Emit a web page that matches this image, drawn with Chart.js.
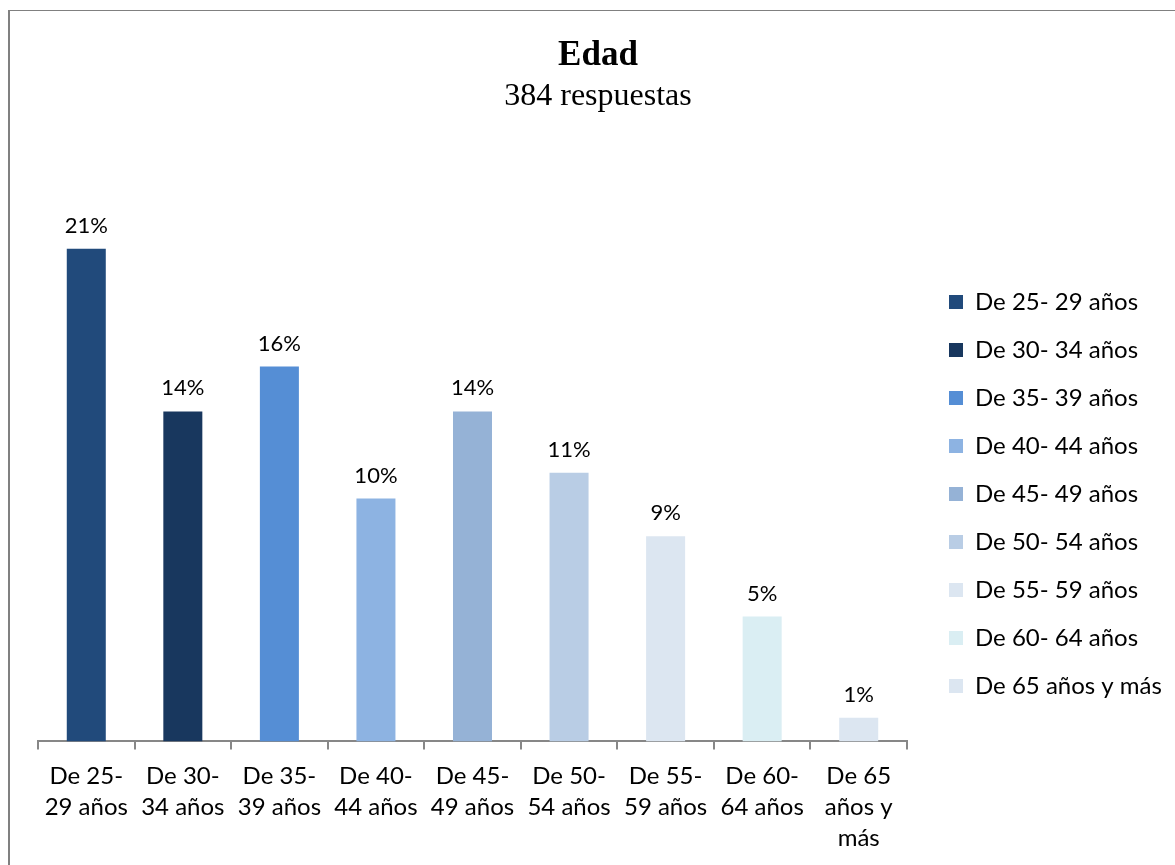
<!DOCTYPE html>
<html>
<head>
<meta charset="utf-8">
<script src="https://cdn.jsdelivr.net/npm/chart.js@4"></script>
<style>
  html, body { margin: 0; padding: 0; background: #ffffff; }
  #wrap { position: relative; width: 1175px; height: 865px; overflow: hidden; background: #fff; }
  #frame { position: absolute; left: 8px; top: 10px; width: 1200px; height: 900px;
           border-left: 2px solid #808080; border-top: 1px solid #808080; box-sizing: border-box; }
  #c { position: absolute; left: 0; top: 0; }
</style>
</head>
<body>
<div id="wrap">
  <div id="frame"></div>
  <canvas id="c" width="1175" height="865"></canvas>
</div>
<script>
// ---- Data ----
const categories = [
  ["De 25-", "29 años"],
  ["De 30-", "34 años"],
  ["De 35-", "39 años"],
  ["De 40-", "44 años"],
  ["De 45-", "49 años"],
  ["De 50-", "54 años"],
  ["De 55-", "59 años"],
  ["De 60-", "64 años"],
  ["De 65", "años y", "más"]
];
const legendLabels = [
  "De 25- 29 años",
  "De 30- 34 años",
  "De 35- 39 años",
  "De 40- 44 años",
  "De 45- 49 años",
  "De 50- 54 años",
  "De 55- 59 años",
  "De 60- 64 años",
  "De 65 años y más"
];
const percentValues = [20.9, 14.0, 15.9, 10.3, 14.0, 11.4, 8.7, 5.3, 1.0];
const valueLabels = ["21%", "14%", "16%", "10%", "14%", "11%", "9%", "5%", "1%"];
const barColors = ["#214A7B", "#18375E", "#558ED5", "#8DB3E2", "#95B2D6", "#B9CDE5", "#DCE6F1", "#DAEEF3", "#DCE6F1"];
const titleText = "Edad";
const subtitleText = "384 respuestas";

// ---- Plugins ----
const LEGEND_W = 251;
const LEGEND_SHIFT = 18;
const legendPlacement = {
  id: 'legendPlacement',
  beforeLayout(chart) {
    const lg = chart.legend;
    if (lg && !lg._patchedFit) {
      const orig = lg.fit.bind(lg);
      lg.fit = function () { orig(); this.width = LEGEND_W; };
      lg._patchedFit = true;
    }
  },
  afterLayout(chart) {
    const lg = chart.legend;
    if (lg) { lg.left += LEGEND_SHIFT; lg.right += LEGEND_SHIFT; }
  }
};

const valueLabelPlugin = {
  id: 'valueLabels',
  afterDatasetsDraw(chart) {
    const ctx = chart.ctx;
    const meta = chart.getDatasetMeta(0);
    ctx.save();
    ctx.font = '22px Lato';
    ctx.fillStyle = '#000000';
    ctx.textAlign = 'center';
    ctx.textBaseline = 'middle';
    meta.data.forEach((bar, i) => {
      ctx.fillText(valueLabels[i], bar.x, bar.y - 23);
    });
    ctx.restore();
  }
};

new Chart(document.getElementById('c'), {
  type: 'bar',
  data: {
    labels: categories,
    datasets: [{
      data: percentValues,
      backgroundColor: barColors,
      borderWidth: 0,
      categoryPercentage: 1.0,
      barPercentage: 0.404
    }]
  },
  options: {
    responsive: false,
    devicePixelRatio: 1,
    animation: false,
    layout: { padding: { left: 38, right: 17, top: 0, bottom: 0 } },
    scales: {
      x: {
        grid: {
          display: true,
          drawOnChartArea: false,
          drawTicks: true,
          tickLength: 8,
          color: '#878787',
          lineWidth: 2,
          offset: true
        },
        border: { display: true, color: '#878787', width: 2 },
        ticks: {
          color: '#000000',
          font: { family: 'Lato', size: 24, lineHeight: 1.3 },
          padding: 11,
          maxRotation: 0,
          minRotation: 0,
          autoSkip: false
        }
      },
      y: {
        display: false,
        min: 0,
        max: 21
      }
    },
    plugins: {
      title: {
        display: true,
        text: titleText,
        color: '#000000',
        font: { family: 'Liberation Serif', size: 35, weight: 'bold', lineHeight: 1.2 },
        padding: { top: 35, bottom: 0 }
      },
      subtitle: {
        display: true,
        text: subtitleText,
        color: '#000000',
        font: { family: 'Liberation Serif', size: 32, weight: 'normal', lineHeight: 1.2 },
        padding: { top: 0, bottom: 131 }
      },
      legend: {
        display: true,
        position: 'right',
        align: 'center',
        fullSize: false,
        onClick: null,
        labels: {
          color: '#000000',
          font: { family: 'Lato', size: 24 },
          boxWidth: 14,
          boxHeight: 14,
          padding: 24,
          generateLabels(chart) {
            return legendLabels.map((t, i) => ({
              text: t,
              fillStyle: barColors[i],
              strokeStyle: barColors[i],
              lineWidth: 0,
              hidden: false,
              index: i,
              fontColor: '#000000'
            }));
          }
        }
      },
      tooltip: { enabled: false }
    }
  },
  plugins: [legendPlacement, valueLabelPlugin]
});
</script>
</body>
</html>
